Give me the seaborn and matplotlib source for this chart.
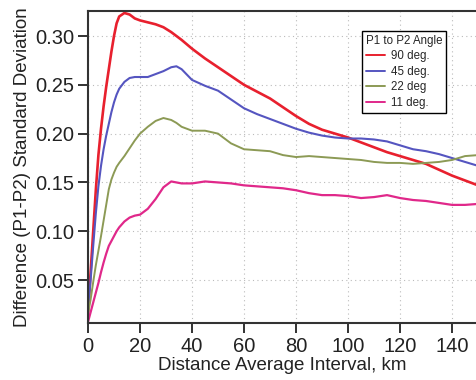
import matplotlib
matplotlib.use("Agg")
import matplotlib.pyplot as plt
import seaborn as sns
import pandas as pd

x_km = [0, 1, 2, 3, 4, 5, 6, 7, 8, 9, 10, 11, 12, 14, 16, 18, 20, 23, 26, 29, 32, 34, 36,
        40, 45, 50, 55, 60, 65, 70, 75, 80, 85, 90, 95, 100, 105, 110, 115, 120, 125,
        130, 135, 140, 145, 150]

deg90 = [0.015, 0.058, 0.100, 0.142, 0.178, 0.205, 0.228, 0.248, 0.266, 0.284, 0.300, 0.313,
         0.320, 0.3236, 0.322, 0.318, 0.316, 0.314, 0.312, 0.309, 0.304, 0.300, 0.296,
         0.287, 0.277, 0.268, 0.259, 0.250, 0.243, 0.236, 0.227, 0.218, 0.210, 0.204, 0.200,
         0.196, 0.191, 0.186, 0.181, 0.177, 0.173, 0.169, 0.163, 0.157, 0.152, 0.147]

deg45 = [0.020, 0.050, 0.085, 0.118, 0.146, 0.167, 0.184, 0.198, 0.210, 0.222, 0.232, 0.240,
         0.246, 0.253, 0.257, 0.258, 0.258, 0.258, 0.261, 0.264, 0.268, 0.269, 0.266,
         0.255, 0.249, 0.244, 0.235, 0.226, 0.220, 0.215, 0.210, 0.205, 0.201, 0.198, 0.196,
         0.195, 0.195, 0.194, 0.192, 0.188, 0.184, 0.182, 0.179, 0.175, 0.171, 0.167]

deg22 = [0.015, 0.030, 0.048, 0.065, 0.080, 0.095, 0.111, 0.127, 0.143, 0.153, 0.160, 0.166,
         0.170, 0.177, 0.185, 0.193, 0.200, 0.207, 0.213, 0.216, 0.214, 0.211, 0.207,
         0.203, 0.203, 0.200, 0.190, 0.184, 0.183, 0.182, 0.178, 0.176, 0.177, 0.176, 0.175,
         0.174, 0.173, 0.171, 0.170, 0.170, 0.169, 0.170, 0.171, 0.173, 0.177, 0.178]

deg11 = [0.007, 0.017, 0.027, 0.037, 0.047, 0.058, 0.068, 0.077, 0.085, 0.090, 0.095, 0.100,
         0.104, 0.110, 0.114, 0.116, 0.117, 0.123, 0.133, 0.145, 0.151, 0.150, 0.149,
         0.149, 0.151, 0.150, 0.149, 0.147, 0.146, 0.145, 0.144, 0.142, 0.139, 0.137, 0.137,
         0.136, 0.134, 0.135, 0.137, 0.134, 0.132, 0.131, 0.129, 0.127, 0.127, 0.128]

labels = ["90 deg.", "45 deg.", "22 deg", "11 deg."]
colors = ["#e8202e", "#5555c0", "#8c9a55", "#e0288a"]
widths = [1.9, 1.5, 1.4, 1.6]

frames = []
for lab, vals in zip(labels, [deg90, deg45, deg22, deg11]):
    frames.append(pd.DataFrame({"x": x_km, "y": vals, "angle": lab}))
df = pd.concat(frames, ignore_index=True)

sns.set_style("ticks")
plt.rcParams["font.family"] = ["Liberation Sans", "DejaVu Sans"]

fig = plt.figure(figsize=(4.77, 3.80), dpi=100)
ax = fig.add_axes([0.1845, 0.15, 0.8155, 0.821])

sns.lineplot(data=df, x="x", y="y", hue="angle", hue_order=labels,
             palette=dict(zip(labels, colors)), linewidth=1.5, ax=ax, sort=False)
for line, w in zip(ax.get_lines(), widths):
    line.set_linewidth(w)

ax.set_xlim(0, 149.6)
ax.set_ylim(0.006, 0.3256)
ax.set_xticks([0, 20, 40, 60, 80, 100, 120, 140])
ax.set_yticks([0.05, 0.10, 0.15, 0.20, 0.25, 0.30])
ax.set_yticklabels(["0.05", "0.10", "0.15", "0.20", "0.25", "0.30"])
ax.grid(True, color="#bbbbbb", linestyle=(0, (1, 3)), linewidth=0.8)
ax.tick_params(axis="both", labelsize=14.5, direction="out", length=7, width=1.3,
               colors="#222222", pad=3)
for s in ["left", "bottom", "top"]:
    ax.spines[s].set_color("#333333")
    ax.spines[s].set_linewidth(1.5)
ax.spines["right"].set_visible(False)

ax.set_xlabel("Distance Average Interval, km", fontsize=13.5, color="#222222", labelpad=1)
ax.set_ylabel("Difference (P1-P2) Standard Deviation", fontsize=13.5, color="#222222",
              labelpad=3)

leg = ax.legend(title="P1 to P2 Angle", loc="upper left", bbox_to_anchor=(0.704, 0.936),
                borderaxespad=0, fontsize=8.3, title_fontsize=8.3, fancybox=False,
                frameon=True, handlelength=1.7, handletextpad=0.5, labelspacing=0.3,
                borderpad=0.35, alignment="left")
leg.get_frame().set_edgecolor("black")
leg.get_frame().set_linewidth(1.0)
leg.get_frame().set_alpha(1)
for h in leg.get_lines():
    h.set_linewidth(1.4)

fig.savefig("out.png", dpi=100)
